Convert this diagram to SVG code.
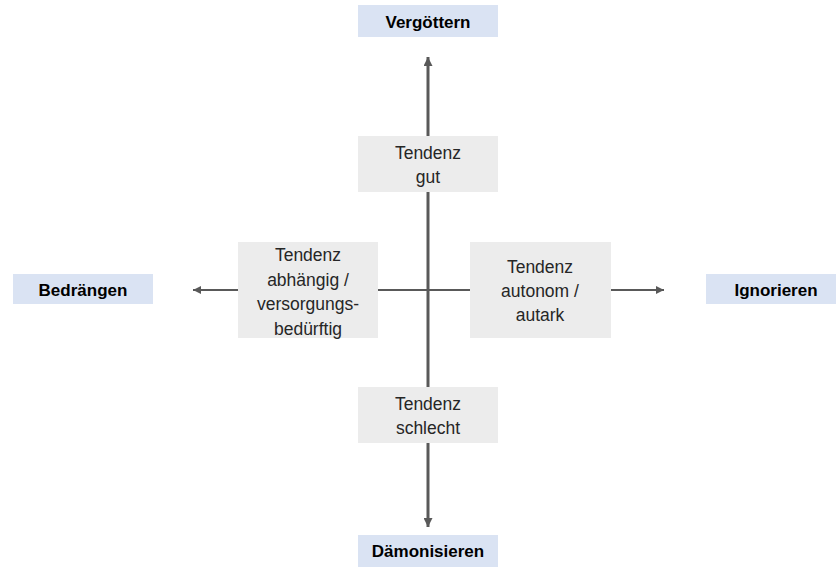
<svg xmlns="http://www.w3.org/2000/svg" width="836" height="570" viewBox="0 0 836 570">
<style>
.lab{fill:#dae3f3}
.box{fill:#ececec}
.t{font-family:"Liberation Sans",Arial,sans-serif;font-size:17.5px;fill:#262626;text-anchor:middle;dominant-baseline:central}
.b{font-family:"Liberation Sans",Arial,sans-serif;font-size:17px;font-weight:bold;fill:#000;text-anchor:middle;dominant-baseline:central}
.v{stroke:#595959;stroke-width:3;fill:none}
.h{stroke:#595959;stroke-width:2;fill:none}
</style>
<defs>
<marker id="ah" viewBox="0 0 10 10" refX="10" refY="5" markerWidth="3" markerHeight="3" orient="auto" markerUnits="strokeWidth"><path d="M0,0 L10,5 L0,10 z" fill="#595959"/></marker>
<marker id="ahs" viewBox="0 0 10 10" refX="10" refY="5" markerWidth="4" markerHeight="4" orient="auto" markerUnits="strokeWidth"><path d="M0,0 L10,5 L0,10 z" fill="#595959"/></marker>
</defs>
<g id="connectors">
<line class="v" x1="428" y1="136" x2="428" y2="57" marker-end="url(#ah)"/>
<line class="v" x1="428" y1="192" x2="428" y2="387"/>
<line class="v" x1="428" y1="443" x2="428" y2="527" marker-end="url(#ah)"/>
<line class="h" x1="378" y1="290" x2="470" y2="290"/>
<line class="h" x1="238" y1="290" x2="193" y2="290" marker-end="url(#ahs)"/>
<line class="h" x1="611" y1="290" x2="664" y2="290" marker-end="url(#ahs)"/>
</g>
<g id="vergoettern"><rect class="lab" x="358" y="5" width="140" height="32"/><text class="b" x="428" y="22">Vergöttern</text></g>
<g id="daemonisieren"><rect class="lab" x="358" y="535" width="140" height="32"/><text class="b" x="428" y="551">Dämonisieren</text></g>
<g id="bedraengen"><rect class="lab" x="13" y="274" width="140" height="30"/><text class="b" x="83" y="290">Bedrängen</text></g>
<g id="ignorieren"><rect class="lab" x="706" y="274" width="140" height="30"/><text class="b" x="776" y="290">Ignorieren</text></g>
<g id="gut"><rect class="box" x="358" y="136" width="140" height="56"/><text class="t" x="428" y="153">Tendenz</text><text class="t" x="428" y="177">gut</text></g>
<g id="schlecht"><rect class="box" x="358" y="387" width="140" height="56"/><text class="t" x="428" y="404">Tendenz</text><text class="t" x="428" y="428">schlecht</text></g>
<g id="abhaengig"><rect class="box" x="238" y="242" width="140" height="96"/><text class="t" x="308" y="255">Tendenz</text><text class="t" x="308" y="280">abhängig /</text><text class="t" x="308" y="304">versorgungs-</text><text class="t" x="308" y="329">bedürftig</text></g>
<g id="autonom"><rect class="box" x="470" y="242" width="141" height="96"/><text class="t" x="540" y="267">Tendenz</text><text class="t" x="540" y="291">autonom /</text><text class="t" x="540" y="315">autark</text></g>
</svg>
